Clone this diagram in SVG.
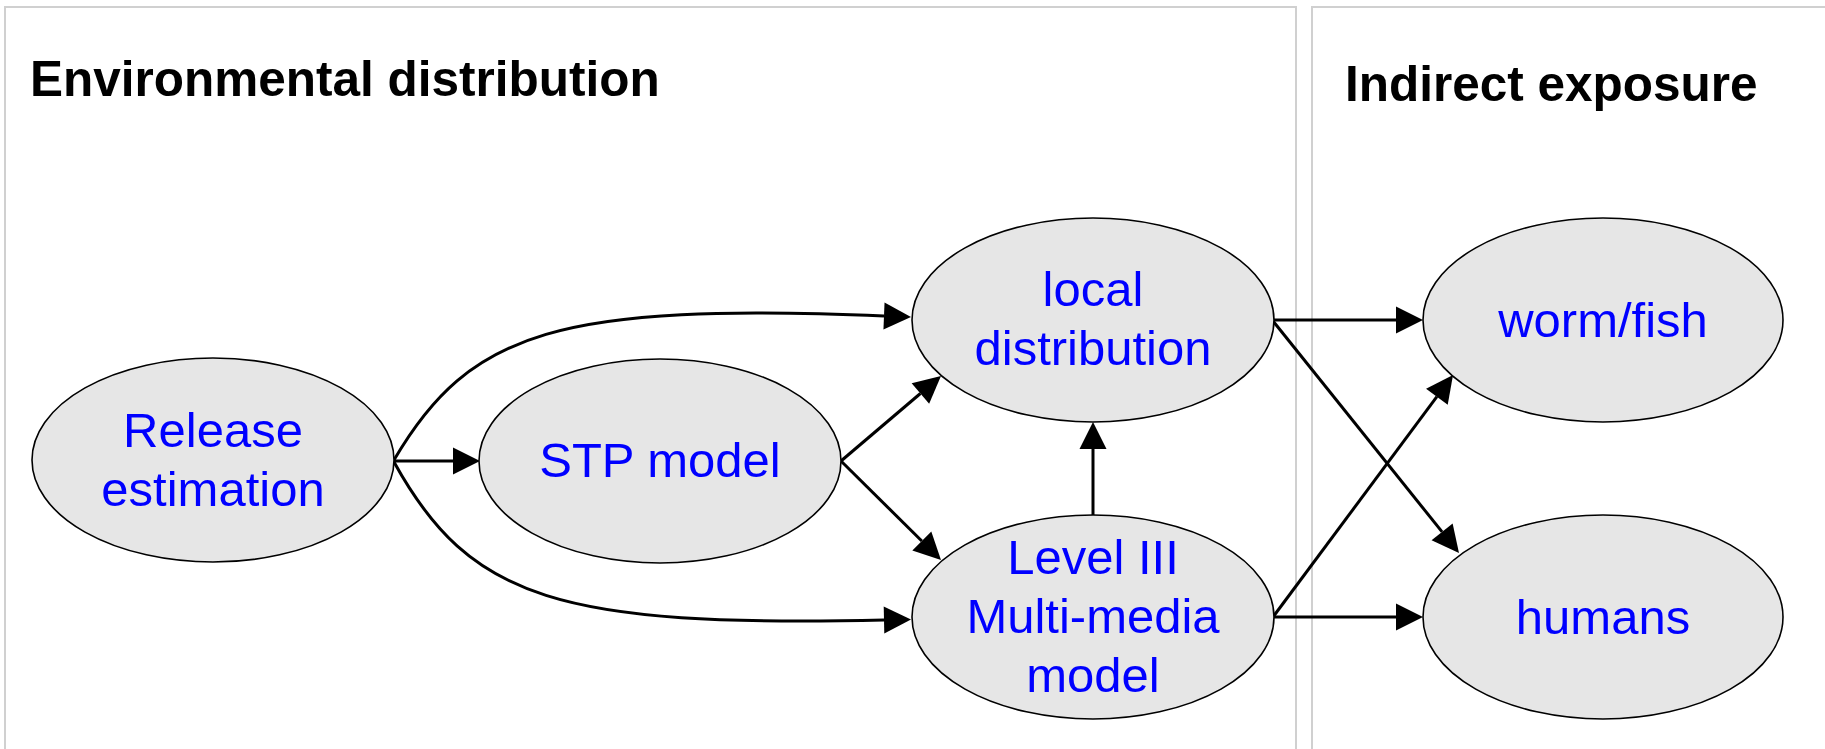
<svg xmlns="http://www.w3.org/2000/svg" width="1825" height="749" viewBox="0 0 1825 749">
<style>
.panel{fill:#ffffff;stroke:#d0d0d0;stroke-width:2}
.title{font-family:"Liberation Sans",Arial,sans-serif;font-weight:bold;font-size:49.5px;fill:#000000}
.node ellipse{fill:#e6e6e6;stroke:#000000;stroke-width:1.6}
.node text{font-family:"Liberation Sans",Arial,sans-serif;font-size:49px;fill:#0000ff;text-anchor:middle}
.edge{fill:none;stroke:#000000;stroke-width:3;marker-end:url(#arrow)}
</style>
<defs>
<marker id="arrow" markerUnits="userSpaceOnUse" markerWidth="28" markerHeight="28" refX="0" refY="13.5" orient="auto" viewBox="0 0 28 27" overflow="visible">
<path d="M0,0 L27,13.5 L0,27 Z" fill="#000000"/>
</marker>
</defs>
<rect width="1825" height="749" fill="#ffffff"/>
<g id="panels">
<rect class="panel" x="5" y="7" width="1291" height="800"/>
<rect class="panel" x="1312" y="7" width="1509" height="800"/>
<text class="title" x="30" y="96">Environmental distribution</text>
<text class="title" x="1345" y="101">Indirect exposure</text>
</g>
<g id="connectors">
<path class="edge" d="M394,461 L453,461"/>
<path class="edge" d="M394,460 C470,330 560,303 884,316"/>
<path class="edge" d="M394,462 C470,600 560,627 884,620"/>
<path class="edge" d="M841,461 L920.4,393.5"/>
<path class="edge" d="M841,461 L921.8,541"/>
<path class="edge" d="M1093,515 L1093,449"/>
<path class="edge" d="M1273,320 L1396,320"/>
<path class="edge" d="M1273,321 L1442.1,531.9"/>
<path class="edge" d="M1273,617 L1436.9,396.7"/>
<path class="edge" d="M1273,617 L1396,617"/>
</g>
<g id="release" class="node">
<ellipse cx="213" cy="460" rx="181" ry="102"/>
<text x="213" y="447">Release</text>
<text x="213" y="506">estimation</text>
</g>
<g id="stp" class="node">
<ellipse cx="660" cy="461" rx="181" ry="102"/>
<text x="660" y="477">STP model</text>
</g>
<g id="local" class="node">
<ellipse cx="1093" cy="320" rx="181" ry="102"/>
<text x="1093" y="306">local</text>
<text x="1093" y="365">distribution</text>
</g>
<g id="level3" class="node">
<ellipse cx="1093" cy="617" rx="181" ry="102"/>
<text x="1093" y="574">Level III</text>
<text x="1093" y="633">Multi-media</text>
<text x="1093" y="692">model</text>
</g>
<g id="wormfish" class="node">
<ellipse cx="1603" cy="320" rx="180" ry="102"/>
<text x="1603" y="337">worm/fish</text>
</g>
<g id="humans" class="node">
<ellipse cx="1603" cy="617" rx="180" ry="102"/>
<text x="1603" y="634">humans</text>
</g>
</svg>
